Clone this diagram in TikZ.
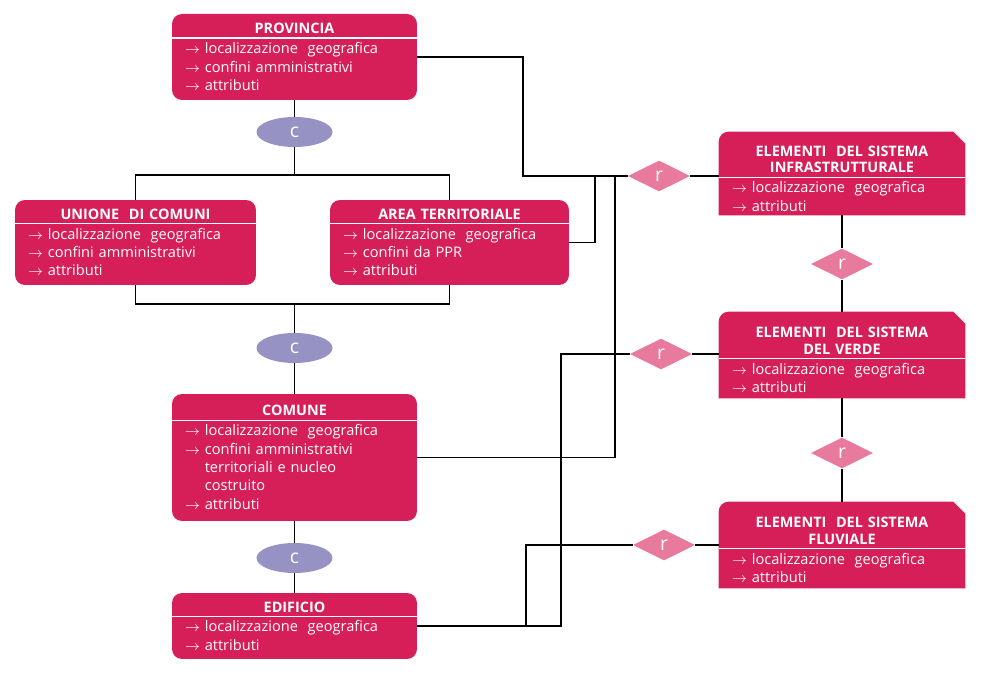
\documentclass[tikz,border=0pt]{standalone}
\usepackage{fontspec}
\setmainfont{Open Sans}
\usetikzlibrary{shapes.geometric,backgrounds}
\definecolor{entred}{RGB}{214,30,88}
\definecolor{relpink}{RGB}{232,122,158}
\definecolor{genlilac}{RGB}{150,146,196}

\newcommand{\etitle}[2][0pt]{{\centering\bfseries\fontsize{8.2}{9.6}\selectfont\rule{0pt}{#1}#2\par}%
  \vspace{2pt}\hrule height 0.6pt\vspace{2.2pt}}
\newcommand{\items}[1]{{\leftskip=0.26cm #1\par}}
\newcommand{\itm}{$\rightarrow$\ }
\newcommand{\elshape}[1]{%
  \fill[entred] (#1.south west) -- ([yshift=-0.2cm]#1.north west)
    arc[start angle=180, end angle=90, radius=0.2cm]
    -- ([xshift=-0.24cm]#1.north east) -- ([yshift=-0.24cm]#1.north east)
    -- (#1.south east) -- cycle;}

\begin{document}
\begin{tikzpicture}[
    x=0.02cm, y=0.02cm,
    ent/.style={rectangle, rounded corners=0.2cm, fill=entred, text=white,
                inner sep=0pt, align=left, font=\fontsize{8.3}{10.5}\selectfont},
    elem/.style={rectangle, text=white, inner sep=0pt, align=left,
                 text width=4.92cm, font=\fontsize{8.3}{10.5}\selectfont},
    gen/.style={ellipse, fill=genlilac, text=white, inner sep=0pt,
                minimum width=1.52cm, minimum height=0.6cm,
                font=\fontsize{11}{12}\selectfont},
    rel/.style={diamond, fill=relpink, text=white, inner sep=0pt, aspect=2,
                minimum width=1.24cm, minimum height=0.62cm,
                font=\fontsize{11}{12}\selectfont},
    conn/.style={draw=black, line width=0.7pt}
]
\useasboundingbox (0,0) rectangle (989,686);

% entita' territoriali
\node[ent, text width=4.9cm, minimum height=1.72cm] (prov) at (294.5,629)
  {\etitle{PROVINCIA}\items{\itm localizzazione~ geografica\\ \itm confini amministrativi\\ \itm attributi}};
\node[ent, text width=4.82cm, minimum height=1.7cm] (unione) at (135.5,443.5)
  {\etitle{UNIONE~ DI COMUNI}\items{\itm localizzazione~ geografica\\ \itm confini amministrativi\\ \itm attributi}};
\node[ent, text width=4.78cm, minimum height=1.7cm] (area) at (449.5,443.5)
  {\etitle{AREA TERRITORIALE}\items{\itm localizzazione~ geografica\\ \itm confini da PPR\\ \itm attributi}};
\node[ent, text width=4.9cm, minimum height=2.54cm] (comune) at (294.5,228.5)
  {\etitle{COMUNE}\items{\itm localizzazione~ geografica\\ \itm confini amministrativi\\
   \phantom{\itm}territoriali e nucleo\\ \phantom{\itm}costruito\\ \itm attributi}};
\node[ent, text width=4.9cm, minimum height=1.32cm] (edif) at (294.5,60)
  {\etitle{EDIFICIO}\items{\itm localizzazione~ geografica\\ \itm attributi}};

% elementi dei sistemi
\node[elem, minimum height=1.66cm] (infra) at (842,512.5)
  {\etitle[11.5pt]{ELEMENTI~ DEL SISTEMA\\ INFRASTRUTTURALE}\items{\itm localizzazione~ geografica\\ \itm attributi}};
\node[elem, minimum height=1.72cm] (verde) at (842,331)
  {\etitle[11.5pt]{ELEMENTI~ DEL SISTEMA\\ DEL VERDE}\items{\itm localizzazione~ geografica\\ \itm attributi}};
\node[elem, minimum height=1.72cm] (fluv) at (842,141)
  {\etitle[11.5pt]{ELEMENTI~ DEL SISTEMA\\ FLUVIALE}\items{\itm localizzazione~ geografica\\ \itm attributi}};
\begin{scope}[on background layer]
  \elshape{infra}
  \elshape{verde}
  \elshape{fluv}
\end{scope}

% composizione
\node[gen] (c1) at (294.5,554) {c};
\node[gen] (c2) at (294.5,338) {c};
\node[gen] (c3) at (294.5,128) {c};

% relazioni
\node[rel] (r1) at (659,510) {r};
\node[rel] (r2) at (842,422) {r};
\node[rel] (r3) at (661,332) {r};
\node[rel] (r4) at (842,233) {r};
\node[rel] (r5) at (664,141) {r};

\coordinate (bar1) at (294.5,511);
\coordinate (bar2) at (294.5,382);
\coordinate (jp) at (523,510);
\coordinate (ja) at (595,510);
\coordinate (jc) at (615,510);
\coordinate (j3) at (561,332);
\coordinate (j5) at (526,141);

\draw[conn] (prov) -- (c1) -- (bar1);
\draw[conn] (unione.north) |- (bar1) -| (area.north);
\draw[conn] (unione.south) |- (bar2) -| (area.south);
\draw[conn] (bar2) -- (c2) -- (comune);
\draw[conn] (comune) -- (c3) -- (edif);

\draw[conn] (prov.east) -| (jp) -- (r1);
\draw[conn] (area.east) -| (ja);
\draw[conn] (comune.east) -| (jc);
\draw[conn] (r1) -- (r1 -| infra.west);
\draw[conn] (infra) -- (r2) -- (verde) -- (r4) -- (fluv);
\draw[conn] (edif.east) -| (j3) -- (r3);
\draw[conn] (r3) -- (r3 -| verde.west);
\draw[conn] (edif.east) -| (j5) -- (r5);
\draw[conn] (r5) -- (fluv);
\end{tikzpicture}
\end{document}
